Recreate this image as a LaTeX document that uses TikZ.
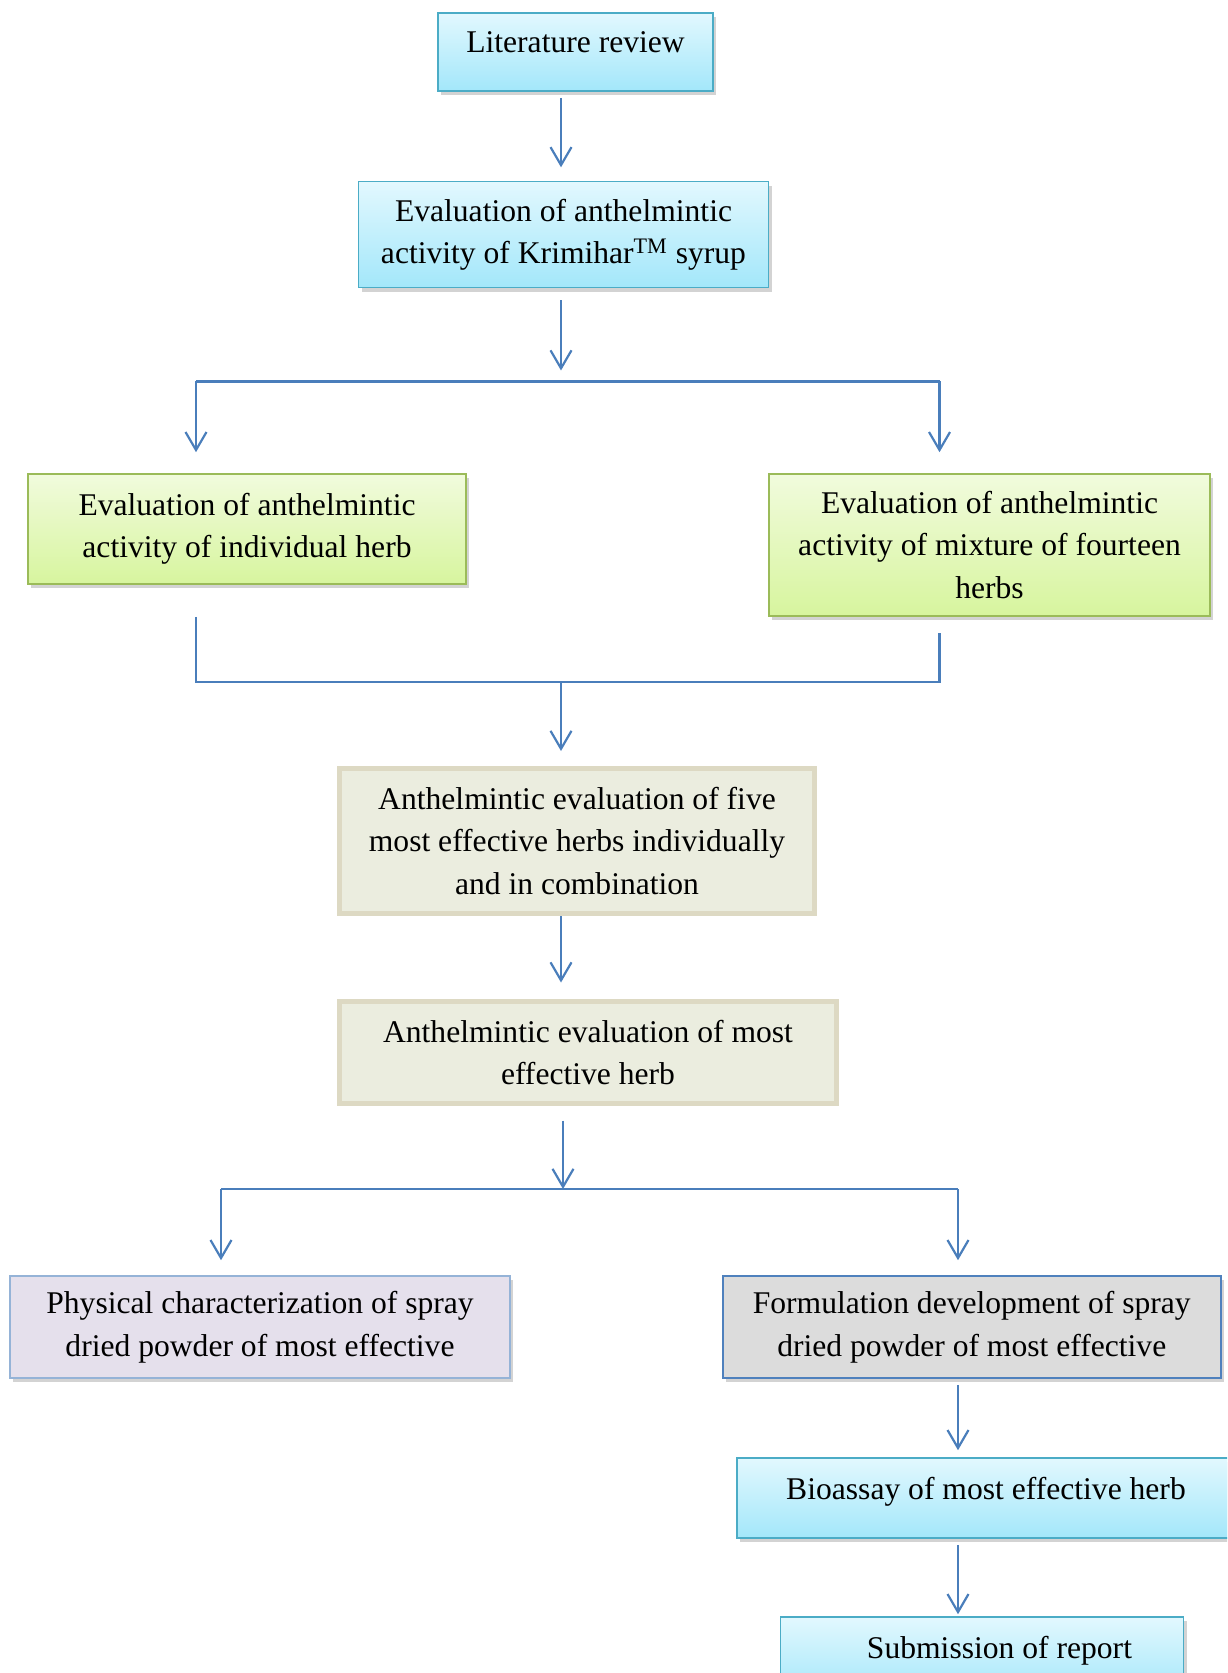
\documentclass[tikz,border=0pt]{standalone}
\usepackage{fontspec}
\setmainfont{Liberation Serif}
\usetikzlibrary{arrows.meta,calc,shadows}
\definecolor{lineblue}{HTML}{4A7EBB}
\definecolor{cyanedge}{HTML}{4BACC6}
\definecolor{cyantop}{HTML}{E2F8FE}
\definecolor{cyanbot}{HTML}{A3E7FA}
\definecolor{greenedge}{HTML}{9BBB59}
\definecolor{greentop}{HTML}{F1FBDD}
\definecolor{greenbot}{HTML}{D7F59E}
\definecolor{tanfill}{HTML}{EBEDDF}
\definecolor{tanedge}{HTML}{DDD9C3}
\definecolor{lavfill}{HTML}{E5E0EC}
\definecolor{lavedge}{HTML}{95B3D7}
\definecolor{grayfill}{HTML}{DCDCDC}
\definecolor{grayedge}{HTML}{4F81BD}
\begin{document}
\begin{tikzpicture}[x=0.5pt,y=-0.5pt,
    every node/.style={font=\fontsize{15.8pt}{21.25pt}\selectfont, align=center, inner sep=0pt},
    shade/.style={drop shadow={opacity=0.35, shadow xshift=1.5pt, shadow yshift=-2pt}},
    cyanbox/.style={draw=cyanedge, line width=0.8pt, top color=cyantop, bottom color=cyanbot, shade},
    greenbox/.style={draw=greenedge, line width=0.8pt, top color=greentop, bottom color=greenbot, shade},
    tanbox/.style={draw=tanedge, line width=2.5pt, fill=tanfill},
    lavbox/.style={draw=lavedge, line width=0.8pt, fill=lavfill, shade},
    graybox/.style={draw=grayedge, line width=0.8pt, fill=grayfill, shade},
    link/.style={draw=lineblue, line width=1.1pt},
    arr/.style={link, -{Straight Barb[length=9pt,width=10.5pt]}}]
    \useasboundingbox (0,0) rectangle (1227,1673);
    \clip (0,0) rectangle (1227,1673);

    \node[cyanbox, minimum width=137.5pt, minimum height=39pt, text depth=10pt] (lit) at (575.5,52) {Literature review};
    \node[cyanbox, minimum width=205pt, minimum height=53pt] (krim) at (563.5,234.6) {Evaluation of anthelmintic\\activity of Krimihar\textsuperscript{TM} syrup};
    \node[greenbox, minimum width=219pt, minimum height=55pt] (indiv) at (247,529) {Evaluation of anthelmintic\\activity of individual herb};
    \node[greenbox, minimum width=220.5pt, minimum height=71pt] (mix) at (989.5,545) {Evaluation of anthelmintic\\activity of mixture of fourteen\\herbs};
    \node[tanbox, minimum width=237.5pt, minimum height=72.5pt] (five) at (577,841) {Anthelmintic evaluation of five\\most effective herbs individually\\and in combination};
    \node[tanbox, minimum width=248.5pt, minimum height=51pt] (most) at (588,1052.5) {Anthelmintic evaluation of most\\effective herb};
    \node[lavbox, minimum width=250pt, minimum height=51pt] (phys) at (260,1327) {Physical characterization of spray\\dried powder of most effective};
    \node[graybox, minimum width=249pt, minimum height=51pt] (form) at (971.75,1327) {Formulation development of spray\\dried powder of most effective};
    \node[cyanbox, minimum width=249pt, minimum height=40pt, text depth=10pt] (bio) at (986,1498) {Bioassay of most effective herb};
    \node[cyanbox, minimum width=201.5pt, minimum height=40pt, text depth=10pt] (sub) at (982,1657) {\hspace*{17.5pt}Submission of report};

    \coordinate (j1) at (561,381.5);
    \coordinate (j1l) at (196,381.5);
    \coordinate (j1r) at (939.5,381.5);
    \coordinate (j2) at (561,682);
    \coordinate (j2l) at (196,682);
    \coordinate (j2r) at (939.5,682);
    \coordinate (j3) at (563,1189);
    \coordinate (j3l) at (221,1189);
    \coordinate (j3r) at (958,1189);

    \draw[arr] ($(lit.south)+(-14.5,6)$) -- ($(krim.north)+(-2.5,-13.5)$);
    \draw[arr] ($(krim.south -| j1)+(0,12)$) -- ($(j1)+(0,-11)$);
    \draw[link] (j1l) -- (j1r);
    \foreach \p/\b in {j1l/indiv, j1r/mix}
        \draw[arr] (\p) -- ($(\b.north -| \p)+(0,-21)$);

    \draw[link] ($(indiv.south -| j2l)+(0,32)$) -- (j2l) -- (j2r) -- ($(mix.south -| j2r)+(0,16)$);
    \draw[arr] (j2) -- ($(five.north -| j2)+(0,-15)$);
    \draw[arr] (five.south -| j2) -- ($(most.north -| j2)+(0,-16.5)$);

    \draw[arr] ($(most.south -| j3)+(0,14.5)$) -- (j3);
    \draw[link] (j3l) -- (j3r);
    \foreach \p/\b in {j3l/phys, j3r/form}
        \draw[arr] (\p) -- ($(\b.north -| \p)+(0,-15)$);
    \draw[arr] ($(form.south -| j3r)+(0,6)$) -- ($(bio.north -| j3r)+(0,-7)$);
    \draw[arr] ($(bio.south -| j3r)+(0,6)$) -- ($(sub.north -| j3r)+(0,-2)$);
\end{tikzpicture}
\end{document}
